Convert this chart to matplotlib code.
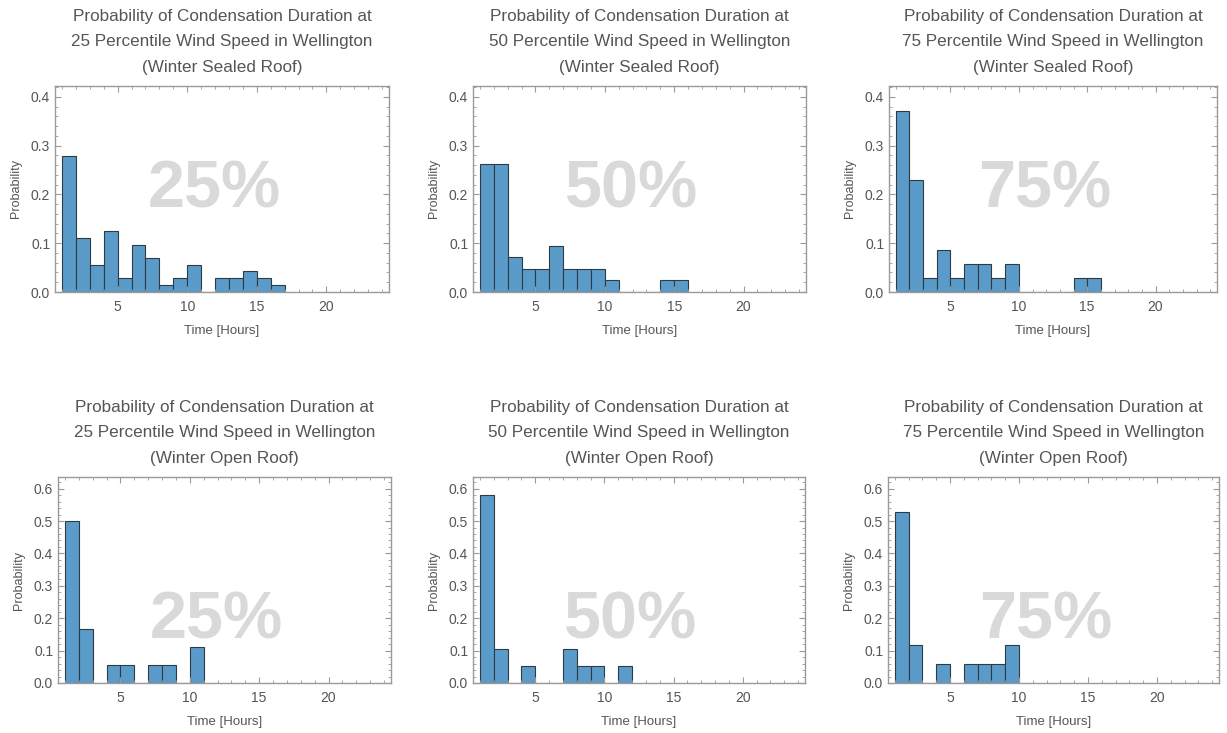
import matplotlib
matplotlib.use("Agg")
import matplotlib.pyplot as plt
from matplotlib.ticker import MultipleLocator

plt.rcParams['font.family'] = ['Liberation Sans', 'DejaVu Sans']

# probability per 1-hour bin, first bin is 1-2 h
hours_start = 1
sealed_25 = [0.278, 0.111, 0.056, 0.125, 0.028, 0.097, 0.069, 0.014, 0.028, 0.056,
             0.0, 0.028, 0.028, 0.042, 0.028, 0.014]
sealed_50 = [0.262, 0.262, 0.071, 0.048, 0.048, 0.095, 0.048, 0.048, 0.048, 0.024,
             0.0, 0.0, 0.0, 0.024, 0.024]
sealed_75 = [0.371, 0.229, 0.029, 0.086, 0.029, 0.057, 0.057, 0.029, 0.057, 0.0,
             0.0, 0.0, 0.0, 0.029, 0.029]
open_25 = [0.5, 0.167, 0.0, 0.056, 0.056, 0.0, 0.056, 0.056, 0.0, 0.111]
open_50 = [0.579, 0.105, 0.0, 0.053, 0.0, 0.0, 0.105, 0.053, 0.053, 0.0, 0.053]
open_75 = [0.529, 0.118, 0.0, 0.059, 0.0, 0.059, 0.059, 0.059, 0.118]

percentiles = ["25", "50", "75"]
roof_types = ["Winter Sealed Roof", "Winter Open Roof"]
series = [[sealed_25, sealed_50, sealed_75], [open_25, open_50, open_75]]
y_max = [0.422, 0.636]

W, H = 1227, 733
# axes boxes in pixels: left, right, top, bottom
boxes = [
    [(55, 389, 86, 292), (473, 806, 86, 292), (889, 1217, 86, 292)],
    [(58, 391, 477, 683), (473, 805, 477, 683), (888, 1219, 477, 683)],
]
wm_y = [0.495, 0.30]

txt = '#555555'
frame = '#9a9a9a'
bar_face = '#5b9bc9'
bar_edge = '#2e3a44'

fig = plt.figure(figsize=(W / 100, H / 100), dpi=100)

for r in range(2):
    for c in range(3):
        l, rt, t, b = boxes[r][c]
        ax = fig.add_axes([l / W, 1 - b / H, (rt - l) / W, (b - t) / H])
        vals = series[r][c]
        lefts = [hours_start + i for i in range(len(vals))]
        ax.bar(lefts, vals, width=1, align='edge', color=bar_face,
               edgecolor=bar_edge, linewidth=0.8)
        ax.set_xlim(0.5, 24.5)
        ax.set_ylim(0, y_max[r])
        ax.xaxis.set_major_locator(MultipleLocator(5))
        ax.xaxis.set_minor_locator(MultipleLocator(1))
        ax.yaxis.set_major_locator(MultipleLocator(0.1))
        ax.yaxis.set_minor_locator(MultipleLocator(0.02))
        ax.set_xticks([5, 10, 15, 20])
        ax.yaxis.set_major_formatter(plt.FuncFormatter(lambda v, p: f"{v:.1f}"))
        ax.tick_params(which='both', direction='in', top=True, right=True,
                       color=frame, labelcolor=txt, labelsize=10)
        ax.tick_params(which='major', length=4, width=0.8)
        ax.tick_params(which='minor', length=2, width=0.6)
        ax.tick_params(axis='x', pad=6)
        for s in ax.spines.values():
            s.set_color(frame)
            s.set_linewidth(1.0)
        ax.set_xlabel("Time [Hours]", color=txt, fontsize=9.5, labelpad=8)
        ax.set_ylabel("Probability", color=txt, fontsize=9, labelpad=6)
        ax.set_title(f"Probability of Condensation Duration at\n"
                     f"{percentiles[c]} Percentile Wind Speed in Wellington\n"
                     f"({roof_types[r]})",
                     color=txt, fontsize=12.3, linespacing=1.9, pad=10)
        ax.text(0.476, wm_y[r], f"{percentiles[c]}%", transform=ax.transAxes,
                ha='center', va='center', fontsize=48, fontweight='bold',
                color='#d9d9d9', zorder=0)

fig.savefig("out.png", dpi=100)
